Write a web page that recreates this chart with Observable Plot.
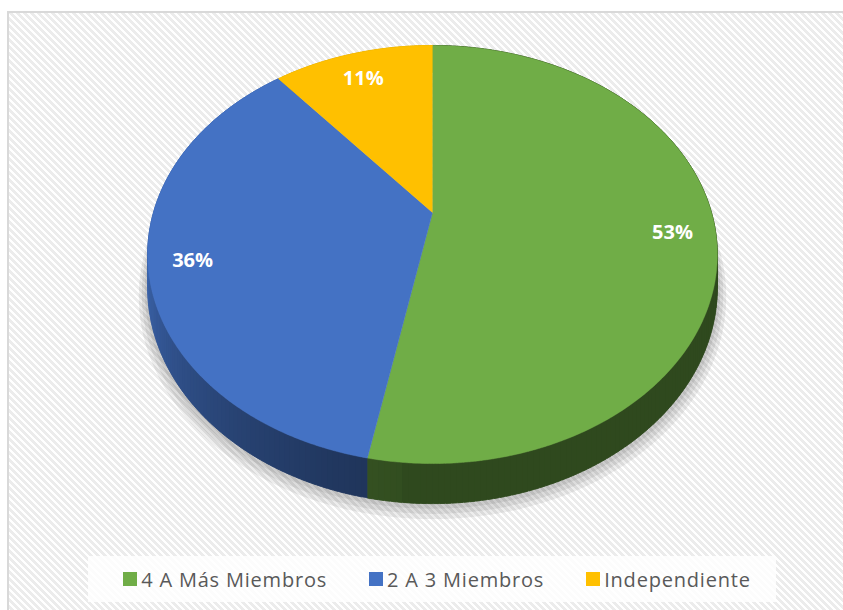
<!DOCTYPE html>
<html><head><meta charset="utf-8">
<script src="https://cdn.jsdelivr.net/npm/d3@7"></script>
<script src="https://cdn.jsdelivr.net/npm/@observablehq/plot@0.6"></script>
<style>
html,body{margin:0;padding:0;background:#fff;overflow:hidden;}
#frame{position:fixed;left:7px;top:11px;right:-20px;bottom:-20px;border-left:2px solid #d9d9d9;border-top:2px solid #d9d9d9;
 background-color:#ffffff;
 background-image:linear-gradient(45deg,#ececec 25%,transparent 25%,transparent 50%,#ececec 50%,#ececec 75%,transparent 75%,transparent);
 background-size:7px 7px;}
#chart{position:fixed;left:0;top:0;width:780px;height:550px;}
#chart svg{display:block;max-width:none;}
#legend{position:fixed;left:88px;top:556px;width:678px;padding-left:10px;height:46px;background:rgba(255,255,255,0.82);display:flex;align-items:center;justify-content:center;gap:42px;
 font-family:"Open Sans";font-size:20px;color:#595959;letter-spacing:0.8px;}
.item{display:flex;align-items:center;gap:4px;}
.sw{width:14px;height:14px;display:inline-block;}
</style></head>
<body>
<div id="frame"></div>
<div id="chart"></div>
<div id="legend"></div>
<script>
const categories = ["4 A Más Miembros", "2 A 3 Miembros", "Independiente"];
const values = [53, 36, 11];
const labels = ["53%", "36%", "11%"];
const colors = ["#70ad47", "#4472c4", "#ffc000"];

// perspective pie projection (layout)
const cx = 432, cy = 212, A = 279, B = 200.6, k = 0.201, Dp = 32;
const rad = d => d * Math.PI / 180;
function proj(t, deg) {
  const p = rad(deg), den = 1 + k * t * Math.cos(p);
  return [cx + A * t * Math.sin(p) / den, cy - B * t * Math.cos(p) / den];
}
const drop = deg => Dp / (1 + k * Math.cos(rad(deg)));
function shade(color, deg) {
  let f;
  if (deg < 185) f = 0.42;
  else f = 0.45 + 0.43 * Math.pow(Math.min(1, (deg - 185) / 75), 1.3);
  const c = d3.rgb(color);
  return d3.rgb(c.r * f, c.g * f, c.b * f).formatHex();
}

const total = d3.sum(values);
let acc = 0;
const slices = categories.map((c, i) => {
  const a0 = acc / total * 360; acc += values[i]; const a1 = acc / total * 360;
  return {c, i, a0, a1, color: colors[i], label: labels[i]};
});

const topRows = [], sideRows = [], shadowRows = [], labelRows = [];
for (const s of slices) {
  topRows.push({id: "t" + s.i, x: cx, y: cy, color: s.color});
  for (let d = s.a0; ; d += 0.5) {
    const dd = Math.min(d, s.a1);
    const [x, y] = proj(1, dd);
    topRows.push({id: "t" + s.i, x, y, color: s.color});
    if (dd >= s.a1) break;
  }
  let n = 0;
  for (let d = s.a0; d < s.a1; d += 1) {
    const d1 = Math.min(d + 1.8, s.a1);
    const col = shade(s.color, d + 0.5);
    const id = "s" + s.i + "_" + (n++);
    const p0 = proj(1, d), p1 = proj(1, d1);
    sideRows.push({id, x: p0[0], y: p0[1], color: col});
    sideRows.push({id, x: p1[0], y: p1[1], color: col});
    sideRows.push({id, x: p1[0], y: p1[1] + drop(d1), color: col});
    sideRows.push({id, x: p0[0], y: p0[1] + drop(d), color: col});
  }
  const mid = (s.a0 + s.a1) / 2;
  const [lx, ly] = proj(0.85, mid);
  labelRows.push({x: lx, y: ly, text: s.label});
}
// soft shadow: a few stacked translucent outlines
const rings = [1.03, 1.02, 1.01];
rings.forEach((t, j) => {
  for (let d = 0; d <= 360; d += 2) {
    const [x, y] = proj(t, d);
    shadowRows.push({id: "r" + j, x, y: y + drop(d) + 2 + 2 * (2 - j)});
  }
});

const plot = Plot.plot({
  width: 780, height: 550, margin: 0,
  x: {domain: [0, 780], range: [0, 780], axis: null},
  y: {domain: [0, 550], range: [0, 550], axis: null},
  color: {type: "identity"},
  style: {background: "transparent", fontFamily: "Open Sans"},
  marks: [
    Plot.line(shadowRows, {x: "x", y: "y", z: "id", fill: "#000", fillOpacity: 0.07, stroke: "none"}),
    Plot.line(sideRows, {x: "x", y: "y", z: "id", fill: "color", stroke: "color", strokeWidth: 0.6}),
    Plot.line(topRows, {x: "x", y: "y", z: "id", fill: "color", stroke: "color", strokeWidth: 0.5}),
    Plot.text(labelRows, {x: "x", y: "y", dy: 4, text: "text", fill: "white", fontSize: 20, fontWeight: "bold", fontFamily: "Open Sans"})
  ]
});
document.getElementById("chart").appendChild(plot);

const legend = document.getElementById("legend");
categories.forEach((c, i) => {
  const it = document.createElement("div"); it.className = "item";
  const sw = document.createElement("span"); sw.className = "sw"; sw.style.background = colors[i];
  const tx = document.createElement("span"); tx.textContent = c;
  it.appendChild(sw); it.appendChild(tx); legend.appendChild(it);
});
</script>
</body></html>
